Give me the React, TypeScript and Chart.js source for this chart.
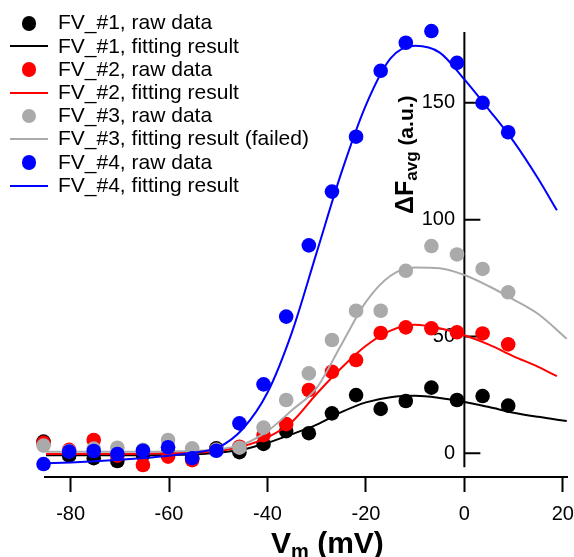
import React, { useEffect, useRef } from 'react';
import { Chart, registerables } from 'chart.js';

Chart.register(...registerables);

const FONT = "'Liberation Sans', Arial, Helvetica, sans-serif";

// Raw data voltages (mV)
const rawV = [-85.5, -80.3, -75.3, -70.5, -65.3, -60.2, -55.3, -50.4, -45.7, -40.8, -36.2, -31.6, -26.9, -22, -17, -11.9, -6.7, -1.5, 3.7, 8.9];
const raw1 = [5.0, -1.0, -2.1, -3.3, -0.7, 0.5, -2.0, 2.1, 0.5, 4.0, 9.5, 8.6, 17.1, 24.9, 19.0, 22.4, 28.1, 22.8, 24.5, 20.4];
const raw2 = [4.5, 1.5, 5.7, -1.0, -5.0, -1.4, -2.9, 1.5, 2.8, 7.8, 12.5, 27.1, 34.9, 39.9, 51.5, 53.9, 53.5, 51.8, 51.3, 46.6];
const raw3 = [3.3, 1.0, 2.0, 2.4, 1.5, 5.7, 2.1, 1.5, 2.4, 11.0, 22.8, 34.2, 48.5, 61.0, 61.0, 78.1, 88.7, 85.1, 78.9, 68.9];
const raw4 = [-4.6, 0.7, 1.0, -0.3, 1.1, 2.6, -2.1, 1.1, 12.8, 29.5, 58.5, 89.0, 112.0, 135.5, 163.7, 175.7, 180.7, 167.1, 150.0, 137.4];

// Fitted curves
const fitVA = [-85, -80, -75, -70, -65, -60, -55, -50, -45, -40, -35, -30, -25, -20, -15, -10, -5, 0, 5, 10, 15, 20.8];
const fitVB = [-85, -80, -75, -70, -65, -60, -55, -50, -45, -40, -35, -30, -25, -20, -15, -10, -5, 0, 5, 10, 15, 18.8];
const fit1 = [-0.8, -0.8, -0.8, -0.8, -0.8, -0.7, -0.5, 0.3, 1.6, 4.5, 8.2, 12.3, 17.6, 21.8, 24.0, 24.6, 23.7, 22.0, 19.8, 17.4, 15.6, 13.8];
const fit2 = [-0.3, -0.3, -0.3, -0.3, -0.2, 0.0, 0.3, 1.0, 3.0, 6.8, 13.5, 25.5, 36.5, 46.0, 52.5, 55.0, 53.5, 50.5, 46.5, 41.5, 37.0, 33.0];
const fit3 = [0.7, 0.7, 0.7, 0.7, 0.7, 0.8, 1.0, 1.7, 3.8, 9.5, 18.5, 28.0, 46.5, 64.8, 76.0, 79.5, 79.2, 76.3, 71.5, 65.8, 59.6, 49.0];
const fit4 = [-4.3, -3.9, -3.4, -2.8, -2.0, -1.0, 0.3, 2.5, 10.5, 26.0, 52.0, 86.0, 120.0, 149.0, 169.0, 174.4, 171.5, 160.0, 147.0, 133.5, 117.5, 104.0];

const xTicks = [-80, -60, -40, -20, 0, 20];
const yTicks = [0, 50, 100, 150];

const X_MIN = -85.2;
const X_MAX = 20.85;
const Y_MIN = -10.14;
const Y_MAX = 180.3;
const Y_AXIS_END = -6;
const Y_AXIS_AT = 0;
const Y_LABELS_AT = -1.9;

const colors = ['#000000', '#ff0000', '#aaaaaa', '#0000ff'];
const seriesNames = ['FV_#1', 'FV_#2', 'FV_#3', 'FV_#4'];
const rawLabel = 'raw data';
const fitLabels = ['fitting result', 'fitting result', 'fitting result (failed)', 'fitting result'];

const pts = (xs: number[], ys: number[]) => xs.map((x, i) => ({ x, y: ys[i] }));

const zeroPadding = (s: any) => {
  s.paddingLeft = 0;
  s.paddingRight = 0;
  s.paddingTop = 0;
  s.paddingBottom = 0;
};

const yAxisPlugin = {
  id: 'yAxisCustom',
  beforeDatasetsDraw(chart: any) {
    const ctx = chart.ctx;
    const xs = chart.scales.x;
    const ys = chart.scales.y;
    const x0 = xs.getPixelForValue(Y_AXIS_AT);
    ctx.save();
    ctx.strokeStyle = '#000';
    ctx.lineWidth = 2;
    ctx.beginPath();
    ctx.moveTo(x0, ys.getPixelForValue(Y_MAX));
    ctx.lineTo(x0, ys.getPixelForValue(Y_AXIS_END));
    ctx.stroke();
    ctx.beginPath();
    yTicks.forEach((v) => {
      const py = ys.getPixelForValue(v);
      ctx.moveTo(x0, py);
      ctx.lineTo(x0 + 16, py);
    });
    ctx.stroke();
    ctx.restore();
  },
};

export default function App() {
  const ref = useRef<HTMLCanvasElement>(null);

  useEffect(() => {
    if (!ref.current) return;
    const raws = [raw1, raw2, raw3, raw4];
    const fits = [fit1, fit2, fit3, fit4];
    const fitXs = [fitVA, fitVB, fitVA, fitVB];
    const datasets: any[] = [];
    for (let i = 0; i < 4; i++) {
      datasets.push({
        label: seriesNames[i] + ', ' + fitLabels[i],
        data: pts(fitXs[i], fits[i]),
        showLine: true,
        borderColor: colors[i],
        borderWidth: 2,
        pointRadius: 0,
        pointHoverRadius: 0,
        cubicInterpolationMode: 'monotone',
        fill: false,
        clip: false,
        order: 8 - i * 2,
      });
      datasets.push({
        label: seriesNames[i] + ', ' + rawLabel,
        data: pts(rawV, raws[i]),
        showLine: false,
        backgroundColor: colors[i],
        borderWidth: 0,
        pointRadius: 7.3,
        pointHoverRadius: 7.3,
        clip: false,
        order: 7 - i * 2,
      });
    }
    const chart = new Chart(ref.current, {
      type: 'scatter',
      data: { datasets },
      options: {
        animation: false,
        responsive: false,
        maintainAspectRatio: false,
        events: [],
        layout: { autoPadding: false, padding: { left: 45, right: 7, top: 32, bottom: 0 } },
        plugins: { legend: { display: false }, tooltip: { enabled: false } },
        scales: {
          x: {
            type: 'linear',
            position: 'bottom',
            min: X_MIN,
            max: X_MAX,
            afterBuildTicks: (s: any) => {
              s.ticks = xTicks.map((v) => ({ value: v }));
            },
            afterFit: (s: any) => {
              s.height = 80;
              zeroPadding(s);
            },
            border: { display: true, color: '#000', width: 2 },
            grid: {
              display: true,
              drawOnChartArea: false,
              drawTicks: true,
              tickLength: 15,
              tickWidth: 2,
              tickColor: '#000',
            },
            ticks: {
              color: '#000',
              font: { family: FONT, size: 20 },
              padding: 10,
              maxRotation: 0,
              autoSkip: false,
            },
          },
          y: {
            type: 'linear',
            position: { x: Y_LABELS_AT } as any,
            min: Y_MIN,
            max: Y_MAX,
            afterBuildTicks: (s: any) => {
              s.ticks = yTicks.map((v) => ({ value: v }));
            },
            afterFit: (s: any) => {
              zeroPadding(s);
            },
            border: { display: false },
            grid: { display: false },
            ticks: {
              color: '#000',
              font: { family: FONT, size: 20 },
              padding: 0,
            },
          },
        },
      },
      plugins: [yAxisPlugin],
    });
    return () => chart.destroy();
  }, []);

  const legendRows: { label: string; color: string; kind: 'dot' | 'line' }[] = [];
  for (let i = 0; i < 4; i++) {
    legendRows.push({ label: seriesNames[i] + ', ' + rawLabel, color: colors[i], kind: 'dot' });
    legendRows.push({ label: seriesNames[i] + ', ' + fitLabels[i], color: colors[i], kind: 'line' });
  }

  return (
    <div
      style={{
        position: 'absolute',
        left: 0,
        top: 0,
        width: 574,
        height: 557,
        overflow: 'hidden',
        background: '#fff',
        fontFamily: FONT,
        color: '#000',
      }}
    >
      <canvas
        ref={ref}
        width={574}
        height={557}
        style={{ position: 'absolute', left: 0, top: 0, width: 574, height: 557 }}
      />
      {legendRows.map((r, k) => {
        const baseline = 29.3 + 23.2 * k;
        return (
          <div key={k}>
            {r.kind === 'dot' ? (
              <div
                style={{
                  position: 'absolute',
                  left: 29 - 7.3,
                  top: baseline - 6 - 7.3,
                  width: 14.6,
                  height: 14.6,
                  borderRadius: '50%',
                  background: r.color,
                }}
              />
            ) : (
              <div
                style={{
                  position: 'absolute',
                  left: 10,
                  top: baseline - 6.2 - 1,
                  width: 38,
                  height: 2,
                  background: r.color,
                }}
              />
            )}
            <div
              style={{
                position: 'absolute',
                left: 58,
                top: baseline - 18.9,
                fontSize: 21,
                lineHeight: '23.2px',
                whiteSpace: 'nowrap',
              }}
            >
              {r.label}
            </div>
          </div>
        );
      })}
      {/* x axis title */}
      <div
        style={{
          position: 'absolute',
          left: 271,
          top: 527.9,
          fontSize: 30,
          lineHeight: '30px',
          fontWeight: 'bold',
          whiteSpace: 'nowrap',
        }}
      >
        V
        <span style={{ fontSize: 20, position: 'relative', top: 5 }}>m</span>
        <span> (mV)</span>
      </div>
      {/* y axis title */}
      <div
        style={{
          position: 'absolute',
          left: 392,
          top: 214,
          fontSize: 25,
          lineHeight: '25px',
          fontWeight: 'bold',
          whiteSpace: 'nowrap',
          transform: 'rotate(-90deg)',
          transformOrigin: '0 0',
        }}
      >
        ΔF
        <span style={{ fontSize: 17, position: 'relative', top: 4 }}>avg</span>
        <span style={{ fontSize: 21 }}> (a.u.)</span>
      </div>
    </div>
  );
}
